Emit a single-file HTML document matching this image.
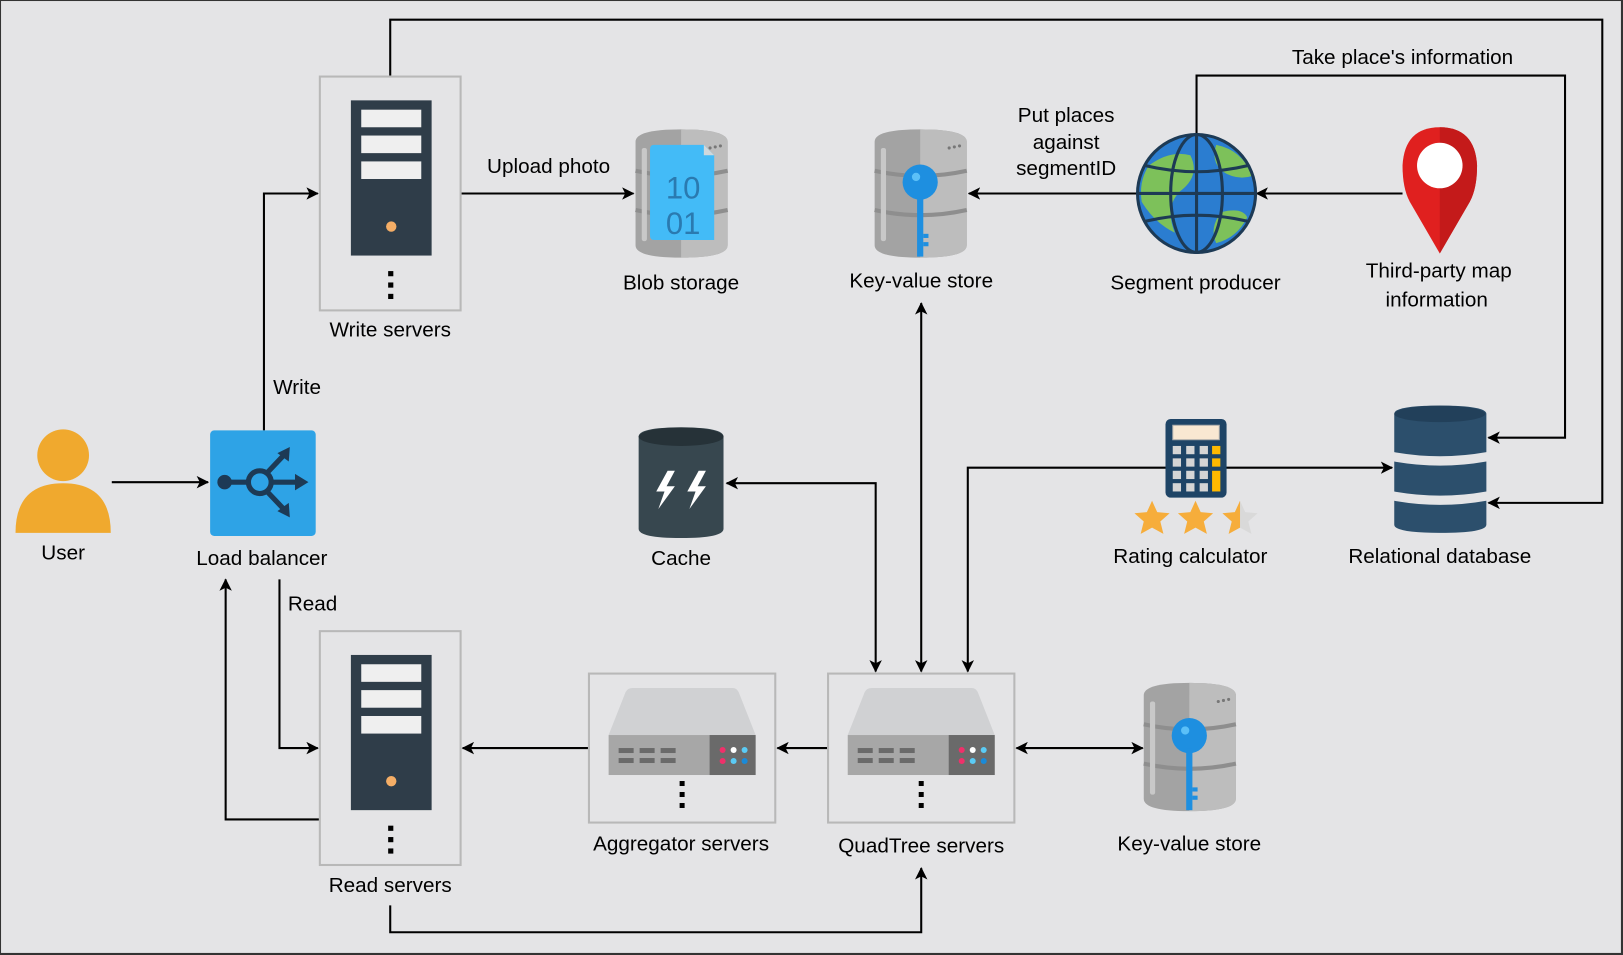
<!DOCTYPE html>
<html><head><meta charset="utf-8"><style>
html,body{margin:0;padding:0;background:#e4e4e6;}
svg{display:block;}
text{font-family:"Liberation Sans",Arial,sans-serif;font-size:20px;fill:#000;}
</style></head><body>
<svg width="1623" height="955" viewBox="0 0 1568 923" preserveAspectRatio="none" xmlns="http://www.w3.org/2000/svg">
<defs>
<marker id="ar" viewBox="0 0 12 12" refX="11" refY="6" markerWidth="12" markerHeight="12" markerUnits="userSpaceOnUse" orient="auto-start-reverse">
<path d="M0,0 L12,6 L0,12 L3,6 Z" fill="#000"/></marker>
<g id="tower">
<rect x="0" y="0" width="78" height="150" fill="#2f3d49"/>
<rect x="10" y="9" width="58" height="17" fill="#efefef"/>
<rect x="10" y="34" width="58" height="17" fill="#efefef"/>
<rect x="10" y="59" width="58" height="17" fill="#efefef"/>
<circle cx="39" cy="122" r="5" fill="#f5ae66"/>
<rect x="36" y="165" width="5" height="5" fill="#000"/>
<rect x="36" y="176" width="5" height="5" fill="#000"/>
<rect x="36" y="187" width="5" height="5" fill="#000"/>
</g>
<g id="rack">
<path d="M24,0 L124,0 Q128,0 130,4 L147,47 L0,47 L17,4 Q19,0 24,0Z" fill="#d0d1d3"/>
<rect x="0" y="47" width="147" height="40" fill="#a7a7a7"/>
<rect x="101" y="47" width="46" height="40" fill="#6a6a6a"/>
<g fill="#6a6a6a"><rect x="10" y="60" width="15" height="5"/><rect x="31" y="60" width="15" height="5"/><rect x="52" y="60" width="15" height="5"/>
<rect x="10" y="70" width="15" height="5"/><rect x="31" y="70" width="15" height="5"/><rect x="52" y="70" width="15" height="5"/></g>
<circle cx="114" cy="62" r="3" fill="#f0306a"/><circle cx="125" cy="62" r="3" fill="#fff"/><circle cx="136" cy="62" r="3" fill="#5bcbf5"/>
<circle cx="114" cy="73" r="3" fill="#f0306a"/><circle cx="125" cy="73" r="3" fill="#5bcbf5"/><circle cx="136" cy="73" r="3" fill="#1a8ad8"/>
<rect x="71" y="93" width="5" height="5" fill="#000"/><rect x="71" y="104" width="5" height="5" fill="#000"/><rect x="71" y="115" width="5" height="5" fill="#000"/>
</g>
<g id="greycyl">
<path d="M0,12 Q0,0 44,0 Q89,0 89,12 L89,112 Q89,124 44,124 Q0,124 0,112Z" fill="#a3a3a3"/>
<path d="M44,0 Q89,0 89,12 L89,112 Q89,124 44,124Z" fill="#bdbdbd"/>
<path d="M0,40 Q44,50 89,40 M0,78 Q44,88 89,78" stroke="#8e8e8e" stroke-width="4" fill="none"/>
<rect x="6" y="18" width="5" height="90" rx="2" fill="#c8c8c8"/>
<circle cx="72" cy="18" r="1.5" fill="#777"/><circle cx="77" cy="17" r="1.5" fill="#777"/><circle cx="82" cy="16" r="1.5" fill="#777"/>
</g>
<g id="key">
<circle cx="0" cy="0" r="17" fill="#1e8fe0"/>
<circle cx="-4" cy="-5" r="4" fill="#5bc0f8"/>
<rect x="-3" y="12" width="6" height="60" fill="#1e8fe0"/>
<rect x="3" y="50" width="5" height="4" fill="#1e8fe0"/><rect x="3" y="58" width="5" height="4" fill="#1e8fe0"/>
</g>
</defs>
<rect width="1568" height="923" fill="#e4e4e6"/>
<rect x="0" y="0" width="1567" height="922" fill="none" stroke="#333" stroke-width="2"/>

<g stroke="#000" stroke-width="2" fill="none">
<path d="M377,73 V19 H1548 V486 H1438" marker-end="url(#ar)"/>
<path d="M1156,130 V73 H1512 V423 H1438" marker-end="url(#ar)"/>
<path d="M108,466 H201" marker-end="url(#ar)"/>
<path d="M255,416 V187 H307" marker-end="url(#ar)"/>
<path d="M270,560 V723 H307" marker-end="url(#ar)"/>
<path d="M309,792 H218 V560" marker-end="url(#ar)"/>
<path d="M445,187 H612" marker-end="url(#ar)"/>
<path d="M1098,187 H936" marker-end="url(#ar)"/>
<path d="M1355,187 H1214" marker-end="url(#ar)"/>
<path d="M890,293 V649" marker-start="url(#ar)" marker-end="url(#ar)"/>
<path d="M846,649 V467 H702" marker-start="url(#ar)" marker-end="url(#ar)"/>
<path d="M935,649 V452 H1345" marker-start="url(#ar)" marker-end="url(#ar)"/>
<path d="M800,723 H751" marker-end="url(#ar)"/>
<path d="M569,723 H447" marker-end="url(#ar)"/>
<path d="M982,723 H1104" marker-start="url(#ar)" marker-end="url(#ar)"/>
<path d="M377,875 V901 H890 V839" marker-end="url(#ar)"/>
</g>

<rect x="309" y="74" width="136" height="226" fill="#e4e4e6" stroke="#b8b8b8" stroke-width="2"/>
<use href="#tower" x="339" y="97"/>
<rect x="309" y="610" width="136" height="226" fill="#e4e4e6" stroke="#b8b8b8" stroke-width="2"/>
<use href="#tower" x="339" y="633"/>

<circle cx="61" cy="440" r="25" fill="#f0a92e"/>
<path d="M15,515 Q15,467 61,467 Q107,467 107,515Z" fill="#f0a92e"/>

<rect x="203" y="416" width="102" height="102" rx="4" fill="#2ea3e6"/>
<g stroke="#1d3a55" stroke-width="5" fill="none">
<circle cx="251" cy="466" r="11"/>
<path d="M216,466 H240 M262,466 H288 M258,457 L276,438 M258,475 L276,494"/>
</g>
<circle cx="217" cy="466" r="7" fill="#1d3a55"/>
<path d="M298,466 L285,458 L285,474Z M280,432 L279,446 L268,438Z M280,500 L279,486 L268,494Z" fill="#1d3a55"/>

<rect x="569" y="651" width="180" height="144" fill="#e4e4e6" stroke="#b8b8b8" stroke-width="2"/>
<g transform="translate(588,665) scale(0.966)"><use href="#rack"/></g>
<rect x="800" y="651" width="180" height="144" fill="#e4e4e6" stroke="#b8b8b8" stroke-width="2"/>
<g transform="translate(819,665) scale(0.966)"><use href="#rack"/></g>

<use href="#greycyl" x="614" y="125"/>
<path d="M632,140 L680,140 L690,150 L690,232 L632,232 Q628,232 628,228 L628,144 Q628,140 632,140Z" fill="#43bbf7"/>
<path d="M680,140 L690,150 L680,150Z" fill="#cfd8dc"/>
<text x="660" y="192" text-anchor="middle" style="font-size:30px;fill:#2a7ab0">10</text>
<text x="660" y="226" text-anchor="middle" style="font-size:30px;fill:#2a7ab0">01</text>

<use href="#greycyl" x="845" y="125"/>
<use href="#key" x="889" y="176"/>
<use href="#greycyl" x="1105" y="660"/>
<use href="#key" x="1149" y="711"/>

<path d="M617,422 Q617,413 658,413 Q699,413 699,422 L699,511 Q699,520 658,520 Q617,520 617,511Z" fill="#37474f"/>
<ellipse cx="658" cy="422" rx="41" ry="9" fill="#263238"/>
<path d="M645,455 L634,475 L642,475 L636,492 L652,470 L644,470 L652,455Z M675,455 L664,475 L672,475 L666,492 L682,470 L674,470 L682,455Z" fill="#fff"/>

<circle cx="1156" cy="187" r="57" fill="#2b7dd0"/>
<path d="M1110,160 Q1130,145 1150,150 Q1160,170 1140,185 Q1125,200 1135,225 Q1115,215 1103,195 Q1100,175 1110,160Z" fill="#7dc15a"/>
<path d="M1175,140 Q1200,145 1210,170 Q1195,175 1180,165 Q1170,155 1175,140Z M1180,205 Q1200,200 1205,210 Q1195,230 1175,235 Q1168,220 1180,205Z" fill="#7dc15a"/>
<g stroke="#1d3a55" stroke-width="3" fill="none">
<circle cx="1156" cy="187" r="57"/>
<ellipse cx="1156" cy="187" rx="25" ry="57"/>
<path d="M1156,130 V244 M1099,187 H1213 M1106,160 Q1156,172 1206,160 M1106,214 Q1156,202 1206,214"/>
</g>

<path d="M1391,245 L1362,195 Q1355,182 1355,160 Q1357,123 1391,123 Q1425,123 1427,160 Q1427,182 1420,195Z" fill="#e0201f"/>
<path d="M1391,245 L1391,123 Q1425,123 1427,160 Q1427,182 1420,195Z" fill="#c41a1a"/>
<circle cx="1391" cy="160" r="22" fill="#fff"/>

<rect x="1126" y="405" width="59" height="76" rx="5" fill="#1e4466"/>
<rect x="1133" y="411" width="45" height="14" fill="#f9e8d2" stroke="#aaa"/>
<g fill="#d5d5d5">
<rect x="1133" y="431" width="8" height="8"/><rect x="1146" y="431" width="8" height="8"/><rect x="1159" y="431" width="8" height="8"/>
<rect x="1133" y="443" width="8" height="8"/><rect x="1146" y="443" width="8" height="8"/><rect x="1159" y="443" width="8" height="8"/>
<rect x="1133" y="455" width="8" height="8"/><rect x="1146" y="455" width="8" height="8"/><rect x="1159" y="455" width="8" height="8"/>
<rect x="1133" y="467" width="8" height="8"/><rect x="1146" y="467" width="8" height="8"/><rect x="1159" y="467" width="8" height="8"/>
</g>
<rect x="1171" y="431" width="8" height="8" fill="#ffb900"/><rect x="1171" y="443" width="8" height="8" fill="#ffb900"/><rect x="1171" y="455" width="8" height="20" fill="#ffb900"/>
<g transform="translate(0,-17)">
<g fill="#f6ad3b">
<path d="M1113,501 l5,11 12,1 -9,8 3,12 -11,-6 -11,6 3,-12 -9,-8 12,-1Z"/>
<path d="M1155,501 l5,11 12,1 -9,8 3,12 -11,-6 -11,6 3,-12 -9,-8 12,-1Z"/>
</g>
<path d="M1198,501 l5,11 12,1 -9,8 3,12 -11,-6 -11,6 3,-12 -9,-8 12,-1Z" fill="#d9d9d9"/>
<path d="M1198,501 l-5,11 -12,1 9,8 -3,12 11,-6Z" fill="#f6ad3b"/>
</g>

<g fill="#2c4f6c">
<path d="M1347,400 Q1347,392 1391,392 Q1436,392 1436,400 L1436,437 Q1391,445 1347,437Z"/>
<path d="M1347,446 Q1391,454 1436,446 L1436,475 Q1391,483 1347,475Z"/>
<path d="M1347,484 Q1391,492 1436,484 L1436,507 Q1436,515 1391,515 Q1347,515 1347,507Z"/>
</g>
<ellipse cx="1391" cy="400" rx="44" ry="8" fill="#22405a"/>

<text x="61" y="541" text-anchor="middle">User</text>
<text x="253" y="546" text-anchor="middle">Load balancer</text>
<text x="287" y="381" text-anchor="middle">Write</text>
<text x="302" y="590" text-anchor="middle">Read</text>
<text x="377" y="325" text-anchor="middle">Write servers</text>
<text x="377" y="862" text-anchor="middle">Read servers</text>
<text x="530" y="167" text-anchor="middle">Upload photo</text>
<text x="658" y="280" text-anchor="middle">Blob storage</text>
<text x="890" y="278" text-anchor="middle">Key-value store</text>
<text x="1030" y="118" text-anchor="middle">Put places</text>
<text x="1030" y="144" text-anchor="middle">against</text>
<text x="1030" y="169" text-anchor="middle">segmentID</text>
<text x="1155" y="280" text-anchor="middle">Segment producer</text>
<text x="1355" y="62" text-anchor="middle">Take place's information</text>
<text x="1390" y="268" text-anchor="middle">Third-party map</text>
<text x="1388" y="296" text-anchor="middle">information</text>
<text x="658" y="546" text-anchor="middle">Cache</text>
<text x="1150" y="544" text-anchor="middle">Rating calculator</text>
<text x="1391" y="544" text-anchor="middle">Relational database</text>
<text x="658" y="822" text-anchor="middle">Aggregator servers</text>
<text x="890" y="824" text-anchor="middle">QuadTree servers</text>
<text x="1149" y="822" text-anchor="middle">Key-value store</text>
</svg>
</body></html>
